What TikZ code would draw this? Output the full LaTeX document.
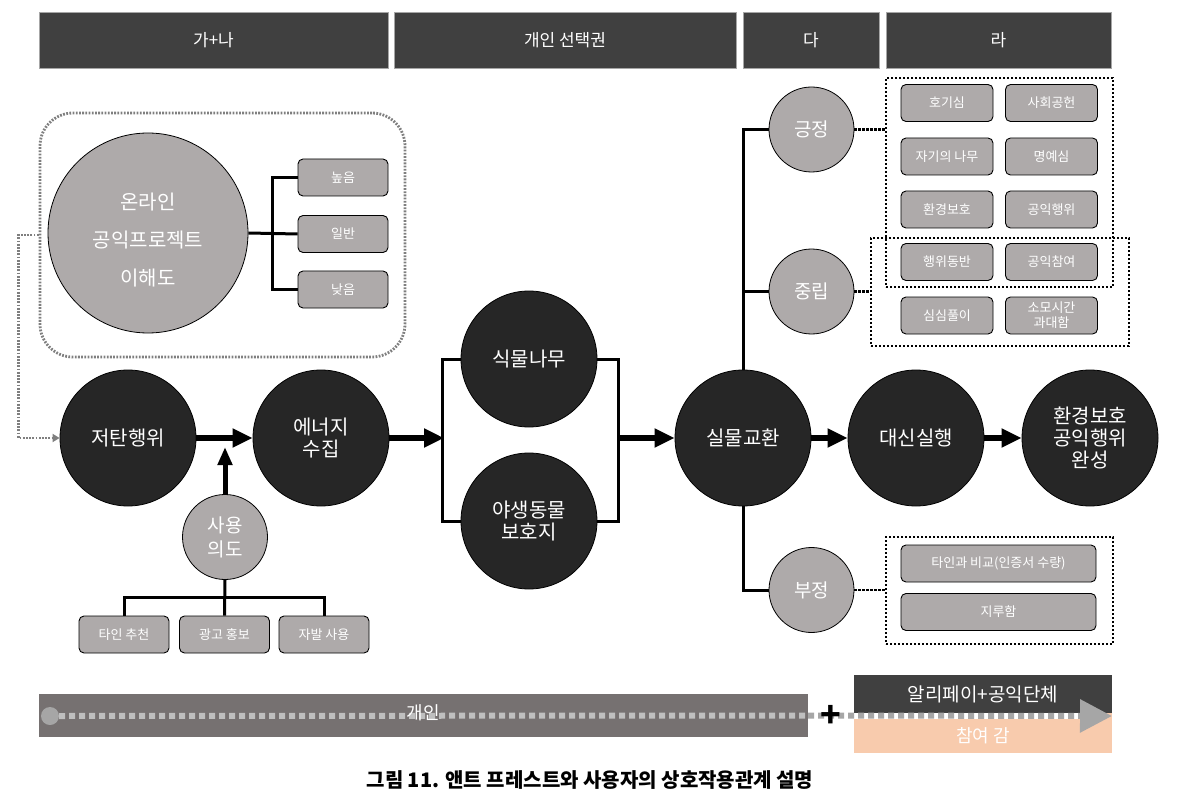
\documentclass[tikz,border=0pt]{standalone}
\usepackage{fontspec}
\setmainfont{Noto Sans CJK KR}
\usetikzlibrary{arrows.meta}
\definecolor{hdr}{HTML}{404040}
\definecolor{blk}{HTML}{262626}
\definecolor{gry}{HTML}{AEAAAA}
\definecolor{barg}{HTML}{767171}
\definecolor{peach}{HTML}{F8CBAD}
\definecolor{dotlight}{HTML}{BFBFBF}
\definecolor{dotmid}{HTML}{A6A6A6}
\definecolor{grpline}{HTML}{7F7F7F}
\begin{document}
\begin{tikzpicture}[x=1pt,y=-1pt,
  hdrbox/.style={fill=hdr, draw=gray!70, line width=0.6pt, minimum height=56pt, inner sep=0pt, text=white, font=\fontsize{17}{20}\selectfont},
  bigc/.style={circle, fill=blk, draw=black, line width=0.8pt, minimum size=136pt, inner sep=0pt, text=white, font=\fontsize{20}{22}\selectfont, align=center},
  grc/.style={circle, fill=gry, draw=black, line width=0.8pt, minimum size=85pt, inner sep=0pt, text=white, font=\fontsize{19}{24}\selectfont, align=center},
  sbox/.style={rounded corners=5pt, fill=gry, draw=black, line width=0.9pt, minimum width=91pt, minimum height=37pt, inner sep=0pt, text=white, font=\fontsize{13}{15}\selectfont, align=center},
  bigarrow/.style={line width=6pt, -{Triangle[length=20pt,width=18pt]}},
  brk/.style={line width=3pt},
  dotbox/.style={draw=black, line width=2.5pt, dash pattern=on 2.4pt off 1.6pt, minimum width=10pt, minimum height=10pt, inner sep=0pt},
  dotc/.style={black, line width=2.5pt, dash pattern=on 2.4pt off 1.6pt},
  grpdot/.style={grpline, line width=2.8pt, dash pattern=on 1.8pt off 1.4pt},
]
\useasboundingbox (0,0) rectangle (1181,805);

% headers
\node[hdrbox, minimum width=349pt] (h1) at (213.5,40) {가+나};
\node[hdrbox, minimum width=342pt] (h2) at (565,40) {개인 선택권};
\node[hdrbox, minimum width=136pt] (h3) at (811,40) {다};
\node[hdrbox, minimum width=225pt] (h4) at (998.5,40) {라};

% group (online understanding)
\node[draw=grpline, grpdot, rounded corners=33pt, minimum width=365pt, minimum height=244pt, inner sep=0pt] (grp) at (222.5,235) {};
\node[circle, fill=gry, draw=black, line width=0.8pt, minimum size=200pt, inner sep=0pt] (und) at (148,233) {};
\node[text=white, align=center, font=\fontsize{20}{38}\selectfont] (undt) at (148,240) {온라인\\공익프로젝트\\이해도};
\node[sbox, minimum width=90pt] (n1) at (343,177.5) {높음};
\node[sbox, minimum width=90pt] (n2) at (343,234) {일반};
\node[sbox, minimum width=90pt] (n3) at (343,289.5) {낮음};
\draw[brk] (und.east) -- (n2.west);
\draw[brk] (n1.west) -- ++(-25,0) |- (n3.west);

% main flow
\node[bigc] (jt) at (128,438) {저탄행위};
\node[bigc] (en) at (321,438) {에너지\\수집};
\draw[grpdot, -{Triangle[length=7pt,width=8pt]}] (grp.west) -- ++(-20,0) |- (jt.west);
\draw[bigarrow] (jt.east) -- (en.west);

\node[grc] (ui) at (225,537) {사용\\의도};
\coordinate (uitip) at (225,447);
\draw[line width=5pt, -{Triangle[length=18pt,width=14pt]}] (ui.north) -- (uitip);
\node[sbox, minimum width=90pt] (b1) at (124,634.5) {타인 추천};
\node[sbox, minimum width=90pt] (b2) at (224.5,634.5) {광고 홍보};
\node[sbox, minimum width=90pt] (b3) at (324,634.5) {자발 사용};
\draw[brk] (ui.south) -- (b2.north);
\draw[brk] (b1.north) -- ++(0,-18) -| (b3.north);

\node[bigc] (pl) at (529,359) {식물나무};
\node[bigc] (wl) at (529,521) {야생동물\\보호지};
\coordinate (bl) at (444,438);
\coordinate (br) at (618,438);
\draw[bigarrow] (en.east) -- (bl);
\draw[brk] (pl.west) -- ++(-18,0) |- (wl.west);
\draw[brk] (pl.east) -- ++(21,0) |- (wl.east);

\node[bigc] (ex) at (743,438) {실물교환};
\node[bigc] (pr) at (916,438) {대신실행};
\node[bigc] (done) at (1090,438) {환경보호\\공익행위\\완성};
\draw[bigarrow] (br) -- (ex.west);
\draw[bigarrow] (ex.east) -- (pr.west);
\draw[bigarrow] (pr.east) -- (done.west);

% attitudes
\node[grc] (po) at (811.5,129.5) {긍정};
\node[grc] (ne) at (811.5,291.5) {중립};
\node[grc] (ng) at (811.5,590) {부정};
\draw[brk] (ex.north) |- (po.west);
\draw[brk] (ex.north) |- (ne.west);
\draw[brk] (ex.south) |- (ng.west);

\node[dotbox, minimum width=227pt, minimum height=209pt] (dp) at (999.5,182.5) {};
\node[dotbox, minimum width=258pt, minimum height=108pt] (dn) at (1000,292) {};
\node[dotbox, minimum width=227pt, minimum height=107pt] (dg) at (999.5,590.5) {};
\draw[dotc] (po.east) -- (po.east -| dp.west);
\draw[dotc] (ne.east) -- (ne.east -| dn.west);
\draw[dotc] (ng.east) -- (ng.east -| dg.west);

\node[sbox, minimum width=92pt] (r11) at (947,103) {호기심};
\node[sbox, minimum width=92pt] (r12) at (1051.5,103) {사회공헌};
\node[sbox, minimum width=92pt] (r21) at (947,156.5) {자기의 나무};
\node[sbox, minimum width=92pt] (r22) at (1051.5,156.5) {명예심};
\node[sbox, minimum width=92pt] (r31) at (947,209.5) {환경보호};
\node[sbox, minimum width=92pt] (r32) at (1051.5,209.5) {공익행위};
\node[sbox, minimum width=92pt] (r41) at (947,262) {행위동반};
\node[sbox, minimum width=92pt] (r42) at (1051.5,262) {공익참여};
\node[sbox, minimum width=92pt] (r51) at (947,315.5) {심심풀이};
\node[sbox, minimum width=92pt] (r52) at (1051.5,315.5) {소모시간\\과대함};

\node[sbox, minimum width=195pt] (g1) at (998.5,563.5) {타인과 비교(인증서 수량)};
\node[sbox, minimum width=195pt] (g2) at (998.5,612) {지루함};

% bottom bar
\node[fill=barg, minimum width=769pt, minimum height=43pt, inner sep=0pt] (bar) at (423.5,715.5) {};
\node[fill=hdr, minimum width=258pt, minimum height=38pt, inner sep=0pt, text=white, font=\fontsize{19}{22}\selectfont] (ali) at (983,694) {알리페이+공익단체};
\node[fill=peach, minimum width=258pt, minimum height=40pt, inner sep=0pt] (par) at (983,733) {};
\node[circle, fill=dotmid, minimum size=18pt, inner sep=0pt] (dot) at (50,716) {};
\coordinate (ds) at (854,716);
\coordinate (de) at (1082,716);
\coordinate (tip) at (1112,716);
\draw[white, line width=6pt] (ds) -- (de);
\draw[dotlight, line width=6pt, dash pattern=on 6pt off 4pt] (dot.east) -- (bar.east);
\draw[dotmid, line width=6pt, dash pattern=on 6pt off 4pt, -{Triangle[length=32pt,width=32pt]}] (bar.east) -- (tip);
\node[text=white, font=\fontsize{18}{20}\selectfont] (gi) at (423,713) {개인};
\node[text=white, font=\fontsize{18}{20}\selectfont] (pt) at (983,736) {참여 감};
\node[text=black, font=\fontsize{34}{34}\selectfont\bfseries, inner sep=0pt] (plus) at (831,716) {+};

% caption
\node[font=\fontsize{20}{24}\selectfont\bfseries] (cap) at (590,780) {그림 11. 앤트 프레스트와 사용자의 상호작용관계 설명};
\end{tikzpicture}
\end{document}
